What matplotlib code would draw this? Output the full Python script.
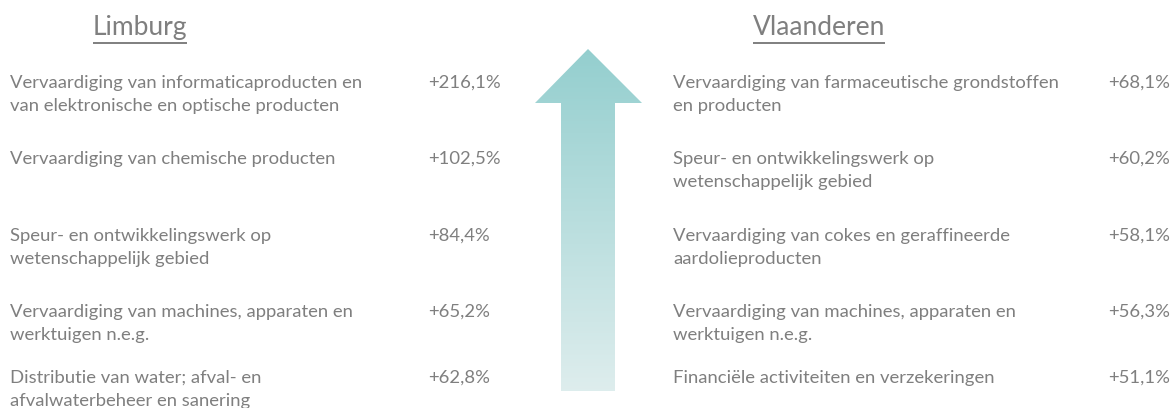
import numpy as np
import matplotlib.pyplot as plt
from matplotlib.patches import Polygon

# Groeiende sectoren: Limburg vs Vlaanderen
limburg_sectors = [
    "Vervaardiging van informaticaproducten en\nvan elektronische en optische producten",
    "Vervaardiging van chemische producten",
    "Speur- en ontwikkelingswerk op\nwetenschappelijk gebied",
    "Vervaardiging van machines, apparaten en\nwerktuigen n.e.g.",
    "Distributie van water; afval- en\nafvalwaterbeheer en sanering",
]
limburg_growth = [216.1, 102.5, 84.4, 65.2, 62.8]

vlaanderen_sectors = [
    "Vervaardiging van farmaceutische grondstoffen\nen producten",
    "Speur- en ontwikkelingswerk op\nwetenschappelijk gebied",
    "Vervaardiging van cokes en geraffineerde\naardolieproducten",
    "Vervaardiging van machines, apparaten en\nwerktuigen n.e.g.",
    "Financiële activiteiten en verzekeringen",
]
vlaanderen_growth = [68.1, 60.2, 58.1, 56.3, 51.1]

titles = ["Limburg", "Vlaanderen"]

plt.rcParams['font.family'] = ['Lato', 'DejaVu Sans']
grey = '#7f7f7f'

W, H = 1174, 408
fig = plt.figure(figsize=(W / 100, H / 100), dpi=100)
ax = fig.add_axes([0, 0, 1, 1])
ax.set_xlim(0, W)
ax.set_ylim(H, 0)
ax.axis('off')

def fmt(v):
    return ('+%.1f%%' % v).replace('.', ',')

# layout (pixels)
row_y = [88, 164, 241, 317, 383]
line_gap = 23
body_size = 13.3
columns = [
    (10, 428, 140, limburg_sectors, limburg_growth),
    (673, 1108, 819, vlaanderen_sectors, vlaanderen_growth),
]

title_objs = []
for (x_text, x_val, x_title, sectors, growth), title in zip(columns, titles):
    t = ax.text(x_title, 35, title, fontsize=19, color=grey,
                ha='center', va='baseline')
    title_objs.append(t)
    for y, s, g in zip(row_y, sectors, growth):
        for i, line in enumerate(s.split('\n')):
            ax.text(x_text, y + i * line_gap, line, fontsize=body_size,
                    color=grey, ha='left', va='baseline')
        ax.text(x_val, y, fmt(g), fontsize=body_size, color=grey,
                ha='left', va='baseline')

# underline the titles
fig.canvas.draw()
inv = ax.transData.inverted()
for t in title_objs:
    bb = t.get_window_extent()
    x0, _ = inv.transform((bb.x0, bb.y0))
    x1, _ = inv.transform((bb.x1, bb.y0))
    ax.plot([x0, x1], [43, 43], color=grey, lw=1.4, solid_capstyle='butt')

# gradient arrow
arrow = Polygon([(588, 49), (642, 103), (615, 103), (615, 391),
                 (561, 391), (561, 103), (535, 103)],
                closed=True, facecolor='none', edgecolor='none')
ax.add_patch(arrow)
top = np.array([0.58, 0.81, 0.81])
bottom = np.array([0.87, 0.93, 0.93])
t = np.linspace(0, 1, 256)[:, None]
grad = (top * (1 - t) + bottom * t)[:, None, :]
img = ax.imshow(grad, extent=(535, 642, 391, 49), aspect='auto',
                interpolation='bilinear')
img.set_clip_path(arrow)

fig.savefig('out.png', dpi=100)
